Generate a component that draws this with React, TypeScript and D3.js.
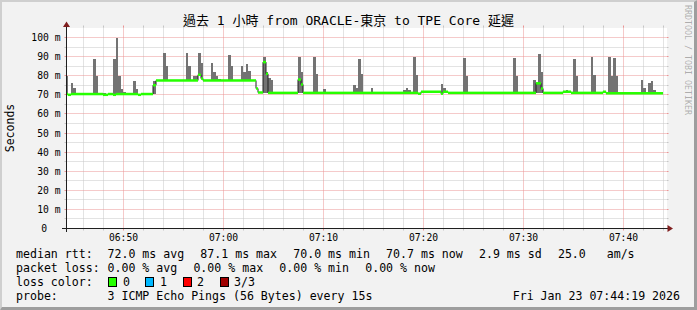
import React from "react";
import * as d3 from "d3";

const W = 697;
const H = 310;

const title = "過去 1 小時 from ORACLE-東京 to TPE Core 延遲";
const yAxisTitle = "Seconds";
const watermark = "RRDTOOL / TOBI OETIKER";

const yTickValues = [0, 10, 20, 30, 40, 50, 60, 70, 80, 90, 100];
const yTickLabels = ["0", "10 m", "20 m", "30 m", "40 m", "50 m", "60 m", "70 m", "80 m", "90 m", "100 m"];
const timeTickLabels = ["06:50", "07:00", "07:10", "07:20", "07:30", "07:40"];

const START = new Date(2026, 0, 23, 6, 44, 19);
const END = new Date(2026, 0, 23, 7, 44, 19);
const FIRST_STEP = new Date(2026, 0, 23, 6, 44, 15);
const STEP_SEC = 15;
const N_STEPS = 239;

// median rtt (ms): [first step index, value] — holds until next run
const medianRuns: [number, number][] = [
  [0, 70.4], [1, 70.0], [2, 70.4], [15, 70.0], [17, 70.4], [19, 70.0], [20, 70.4],
  [29, 70.0], [30, 70.4], [35, 75.0], [36, 77.5], [53, 80.5], [54, 78.5], [55, 77.5],
  [76, 73.3], [77, 71.2], [79, 87.1], [80, 81.0], [81, 71.0], [93, 78.0], [94, 75.4],
  [95, 71.0], [141, 70.6], [142, 71.6], [150, 70.6], [151, 71.6], [153, 71.0],
  [188, 76.0], [190, 73.3], [191, 71.0], [199, 71.6], [202, 71.0], [215, 71.6], [216, 70.8],
];

// smoke (ms): [step index, top, bottom (optional, default = median)]
const smoke: [number, number, number?][] = [
  [0, 80], [2, 76.4], [3, 73.3], [11, 89], [12, 80], [15, 71], [19, 89], [20, 99.5],
  [21, 80], [22, 73], [23, 71.7], [27, 77], [28, 73], [35, 77, 70.4], [39, 92], [40, 85],
  [48, 92], [49, 85], [51, 80], [52, 80], [53, 92], [54, 86.4], [58, 86.4], [59, 81.7],
  [60, 79.6], [61, 78.5], [65, 90.6], [66, 85], [70, 85.3], [71, 81.7], [72, 85.9],
  [73, 82.2], [79, 90, 71], [80, 82, 71], [81, 79], [82, 77.5], [83, 71.7], [93, 90, 71],
  [94, 82, 71], [99, 90], [100, 81], [103, 72.8], [104, 71.7], [115, 75], [116, 73.3],
  [117, 88.5], [118, 81], [122, 73.3], [123, 71.7], [135, 72.3], [136, 73.8], [137, 72.3],
  [139, 90], [140, 80.6], [150, 75.4], [151, 73.3], [159, 89.5], [160, 80], [179, 89.5],
  [180, 80], [187, 78], [188, 76, 71], [189, 91.6, 71], [190, 82, 71], [200, 72.3],
  [203, 89], [204, 80], [206, 71.7], [210, 90], [211, 80.6], [217, 90], [218, 80],
  [219, 89.5], [220, 80], [230, 77.5], [231, 73.8], [233, 76.4], [234, 77], [235, 72.3],
];

const medianStats = ["72.0 ms avg", "87.1 ms max", "70.0 ms min", "70.7 ms now", "2.9 ms sd", "25.0   am/s"];
const lossStats = ["0.00 % avg", "0.00 % max", "0.00 % min", "0.00 % now"];
const lossLabels = ["0", "1", "2", "3/3"];
const lossColors = ["#26ff00", "#00b8ff", "#ff0000", "#a00000"];
const probeText = "3 ICMP Echo Pings (56 Bytes) every 15s";
const dateText = "Fri Jan 23 07:44:19 2026";

const FONT = "'DejaVu Sans Mono', 'Noto Sans CJK TC', monospace";

export default function App() {
  const left = 66.5;
  const right = 666.5;
  const bottom = 228.5;
  const top = 27.5;
  const x = d3.scaleTime().domain([START, END]).range([left, right]);
  const y = d3.scaleLinear().domain([0, 100]).range([bottom, 37.5]);
  const snap = (v: number) => Math.round(v - 0.5) + 0.5;

  const stepTime = (i: number) => new Date(FIRST_STEP.getTime() + i * STEP_SEC * 1000);
  const edge = (i: number) => Math.min(666, Math.max(67, Math.round(x(stepTime(i)))));
  const medianAt = (i: number) => {
    let v = medianRuns[0][1];
    for (const [s, m] of medianRuns) if (s <= i) v = m;
    return v;
  };
  const steps = d3.range(N_STEPS);

  const linePts: [number, number][] = steps.map((i) => [edge(i), y(medianAt(i))]);
  linePts.push([edge(N_STEPS), y(medianAt(N_STEPS - 1))]);
  const medianPath = d3.line<[number, number]>().curve(d3.curveStepAfter)(linePts) || "";

  const minorV = d3.timeMinute.every(2)!.range(START, END).filter((t) => t.getMinutes() % 10 !== 0);
  const majorV = d3.timeMinute.every(10)!.range(START, END);
  const minorH = d3.range(5, 101, 10);

  const gridMinor = "#c6c6c6";
  const gridMajor = "#eb9595";

  // legend layout: monospace char width ~6.97px, gap between items ~16.2px
  const CW = 6.97;
  const GAP = 16.2;
  const legX = 107.5;
  const row = [258, 272, 286, 300];
  const placeItems = (items: string[]) => {
    const xs: number[] = [];
    let cx = legX;
    for (const s of items) {
      xs.push(cx);
      cx += s.length * CW + GAP;
    }
    return xs;
  };
  const medX = placeItems(medianStats);
  const lossX = placeItems(lossStats);
  const boxX = [108, 145, 183, 220];
  const boxLabelX = [123, 160, 197, 234];

  return (
    <svg width={W} height={H} style={{ position: "absolute", left: 0, top: 0 }} fontFamily={FONT}>
      <rect x={0} y={0} width={W} height={H} fill="#f2f2f2" />
      {/* frame shading */}
      <polygon points={`0,0 ${W},0 ${W - 2},2 2,2 2,${H - 2} 0,${H}`} fill="#cfcfcf" />
      <polygon points={`${W},0 ${W},${H} 0,${H} 2,${H - 3} ${W - 3},${H - 3} ${W - 3},2`} fill="#9e9e9e" />

      {/* canvas */}
      <rect x={66} y={28} width={601} height={201} fill="#ffffff" />

      {/* minor grid */}
      {minorV.map((t, k) => {
        const xx = snap(x(t));
        return (
          <g key={"mv" + k}>
            <line x1={xx} x2={xx} y1={top} y2={bottom} stroke={gridMinor} strokeDasharray="1 1" />
            <line x1={xx} x2={xx} y1={top - 2} y2={top} stroke={gridMinor} />
            <line x1={xx} x2={xx} y1={bottom} y2={bottom + 2} stroke={gridMinor} />
          </g>
        );
      })}
      {minorH.map((v, k) => {
        const yy = snap(y(v));
        return (
          <g key={"mh" + k}>
            <line x1={left} x2={right} y1={yy} y2={yy} stroke={gridMinor} strokeDasharray="1 1" />
            <line x1={left - 2} x2={left} y1={yy} y2={yy} stroke={gridMinor} />
            <line x1={right} x2={right + 2} y1={yy} y2={yy} stroke={gridMinor} />
          </g>
        );
      })}
      {/* major grid */}
      {majorV.map((t, k) => {
        const xx = snap(x(t));
        return (
          <g key={"Mv" + k}>
            <line x1={xx} x2={xx} y1={top} y2={bottom} stroke={gridMajor} strokeDasharray="1 1" />
            <line x1={xx} x2={xx} y1={top - 2} y2={top} stroke={gridMajor} />
            <line x1={xx} x2={xx} y1={bottom} y2={bottom + 2} stroke={gridMajor} />
          </g>
        );
      })}
      {yTickValues.filter((v) => v > 0).map((v, k) => {
        const yy = snap(y(v));
        return (
          <g key={"Mh" + k}>
            <line x1={left} x2={right} y1={yy} y2={yy} stroke={gridMajor} strokeDasharray="1 1" />
            <line x1={left - 2} x2={left} y1={yy} y2={yy} stroke={gridMajor} />
            <line x1={right} x2={right + 2} y1={yy} y2={yy} stroke={gridMajor} />
          </g>
        );
      })}

      {/* smoke */}
      {smoke.map(([i, t, b], k) => {
        const y0 = Math.round(y(t));
        const y1 = Math.round(y(b ?? medianAt(i)));
        return (
          <rect key={"s" + k} x={edge(i)} y={y0} width={edge(i + 1) - edge(i)} height={Math.max(1, y1 - y0)} fill="#737373" />
        );
      })}

      {/* median line */}
      <path d={medianPath} fill="none" stroke="#202020" strokeWidth={1} />
      {steps.map((i) => (
        <rect key={"m" + i} x={edge(i)} y={y(medianAt(i)) - 1.25} width={edge(i + 1) - edge(i)} height={2.5} fill="#26ff00" />
      ))}

      {/* axes */}
      <line x1={62} x2={668} y1={bottom} y2={bottom} stroke="#1f1f1f" />
      <line x1={left} x2={left} y1={232} y2={26} stroke="#1f1f1f" />
      <polygon points={`667.5,225 673,228.5 667.5,232`} fill="#801f1f" />
      <polygon points={`63,27 66.5,21.5 70,27`} fill="#801f1f" />

      {/* y labels */}
      {yTickValues.map((v, k) => (
        <text key={"yl" + k} x={v === 0 ? 47 : 60.5} y={y(v) + 3.5} fontSize={9.7} textAnchor="end" fill="#000">
          {yTickLabels[k]}
        </text>
      ))}
      {/* x labels */}
      {majorV.map((t, k) => (
        <text key={"xl" + k} x={snap(x(t))} y={241} fontSize={9.7} textAnchor="middle" fill="#000">
          {timeTickLabels[k]}
        </text>
      ))}

      {/* title */}
      <text x={348.5} y={25} fontSize={13} textAnchor="middle" fill="#000">{title}</text>
      <text transform="translate(14,128) rotate(-90)" fontSize={11.5} textAnchor="middle" fill="#000">{yAxisTitle}</text>
      <text transform="translate(685,5) rotate(90)" fontSize={8.3} fill="#000" fillOpacity={0.3}>{watermark}</text>

      {/* legend */}
      <g fontSize={11.58} fill="#000" style={{ whiteSpace: "pre" }}>
        <text x={16} y={row[0]}>median rtt:</text>
        {medianStats.map((s, k) => (
          <text key={"ms" + k} x={medX[k]} y={row[0]} xmlSpace="preserve">{s}</text>
        ))}
        <text x={16} y={row[1]}>packet loss:</text>
        {lossStats.map((s, k) => (
          <text key={"ls" + k} x={lossX[k]} y={row[1]}>{s}</text>
        ))}
        <text x={16} y={row[2]}>loss color:</text>
        {lossLabels.map((s, k) => (
          <g key={"lc" + k}>
            <rect x={boxX[k] + 0.5} y={277.5} width={8} height={9} fill={lossColors[k]} stroke="#000" strokeWidth={1} />
            <text x={boxLabelX[k]} y={row[2]}>{s}</text>
          </g>
        ))}
        <text x={16} y={row[3]}>probe:</text>
        <text x={legX} y={row[3]}>{probeText}</text>
        <text x={680} y={row[3]} textAnchor="end">{dateText}</text>
      </g>
    </svg>
  );
}
